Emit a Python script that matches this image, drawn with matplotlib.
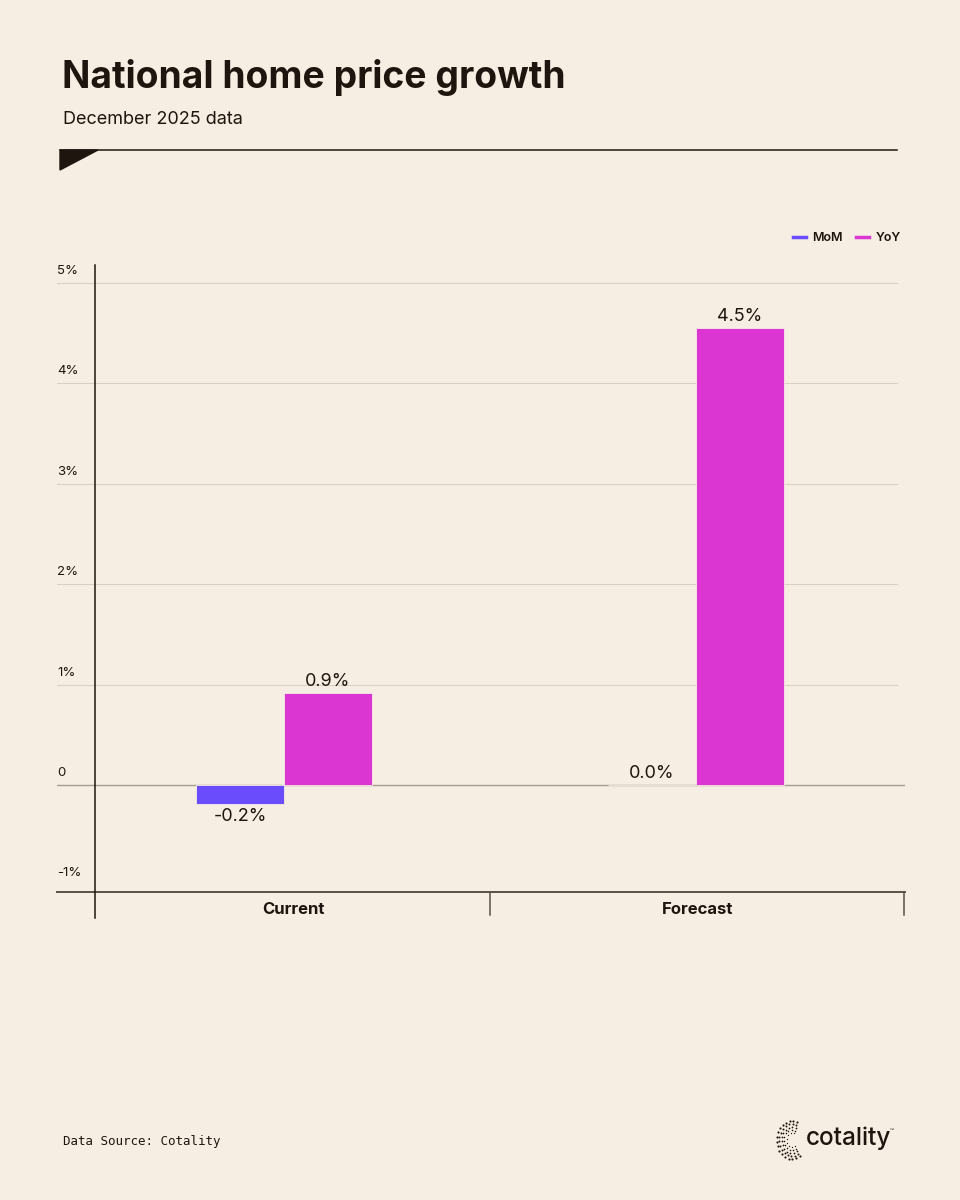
import numpy as np
import matplotlib
matplotlib.use('Agg')
import matplotlib.pyplot as plt
from matplotlib.patches import Polygon
from matplotlib.lines import Line2D

# Данные
categories = ['Current', 'Forecast']
series = ['MoM', 'YoY']
mom = [-0.19, 0.0]
yoy = [0.92, 4.55]
mom_labels = ['-0.2%', '0.0%']
yoy_labels = ['0.9%', '4.5%']
yticks = [-1, 0, 1, 2, 3, 4, 5]
ytick_labels = ['-1%', '0', '1%', '2%', '3%', '4%', '5%']

BG = '#f6eee3'
DARK = '#1e160e'
C_MOM = '#6a4cfc'
C_YOY = '#dc36d2'

plt.rcParams['font.family'] = ['Inter', 'DejaVu Sans']

W, H = 960, 1200
fig = plt.figure(figsize=(W / 100, H / 100), dpi=100, facecolor=BG)

def fx(px):
    return px / W

def fy(py):
    return 1 - py / H

# заголовок
fig.text(fx(62), fy(78), 'National home price growth', fontsize=26.8, fontweight='bold',
         color=DARK, va='center', ha='left')
fig.text(fx(63), fy(119), 'December 2025 data', fontsize=13, color=DARK, va='center', ha='left')
fig.add_artist(Line2D([fx(60), fx(897)], [fy(150), fy(150)], color=DARK, lw=1.1))
fig.add_artist(Polygon([[fx(60), fy(150)], [fx(98), fy(150)], [fx(60), fy(170)]],
                       closed=True, color=DARK, transform=fig.transFigure))

# оси
ax = fig.add_axes([fx(57), fy(892), fx(905) - fx(57), fy(265) - fy(892)])
ax.set_facecolor(BG)
px_per_unit = 100.4
ax.set_ylim(-(892 - 785) / px_per_unit, (785 - 265) / px_per_unit)
grp = 412.0
ax.set_xlim(-(284 - 57) / grp, 1 + (905 - 696) / grp)
for s in ['left', 'right', 'top']:
    ax.spines[s].set_visible(False)
ax.spines['bottom'].set_color('#5a5047')
ax.spines['bottom'].set_linewidth(1.4)
ax.set_xticks([])
ax.set_yticks([])

for t, lab in zip(yticks, ytick_labels):
    if t > 0:
        ax.axhline(t, xmin=0, xmax=0.99, color='#d9d0c3', lw=0.8, zorder=0)
    ax.text(0.0, t + 0.06, lab, transform=ax.get_yaxis_transform(), fontsize=9.5,
            color=DARK, ha='left', va='bottom')
ax.axhline(0, color='#a59c90', lw=1.0, zorder=1)

x = np.arange(len(categories))
w = 88 / grp
ax.bar(x - w / 2, mom, width=w, color=C_MOM, zorder=2, edgecolor=BG, linewidth=0.6)
ax.bar(x + w / 2, yoy, width=w, color=C_YOY, zorder=2, edgecolor=BG, linewidth=0.6)

for xi, v, lab in zip(x - w / 2, mom, mom_labels):
    if v < 0:
        ax.text(xi, v - 0.04, lab, ha='center', va='top', fontsize=13, color=DARK)
    else:
        ax.text(xi, v + 0.03, lab, ha='center', va='bottom', fontsize=13, color=DARK)
for xi, v, lab in zip(x + w / 2, yoy, yoy_labels):
    ax.text(xi, v + 0.03, lab, ha='center', va='bottom', fontsize=13, color=DARK)

# левая линия и разделители категорий
xl = -(284 - 95) / grp
ax.plot([xl, xl], [ax.get_ylim()[1], -(918 - 785) / px_per_unit], color=DARK, lw=1.1,
        clip_on=False, zorder=3)
for xs in [0.5, 1 + (904 - 696) / grp]:
    ax.plot([xs, xs], [ax.get_ylim()[0], -(915 - 785) / px_per_unit], color='#5a5047',
            lw=1.1, clip_on=False)
for xi, c in zip([(95 + 491) / 2, (491 + 905) / 2], categories):
    fig.text(fx(xi), fy(910), c, fontsize=12, fontweight='bold', color=DARK,
             ha='center', va='center')

# легенда
handles = [Line2D([], [], color=C_MOM, lw=2.5), Line2D([], [], color=C_YOY, lw=2.5)]
fig.legend(handles, series, loc='center right', bbox_to_anchor=(fx(912), fy(238)), ncol=2,
           frameon=False, prop={'size': 9, 'weight': 'semibold'}, handlelength=1.1,
           handletextpad=0.5, columnspacing=1.0, labelcolor=DARK)

# подвал
fig.text(fx(63), fy(1142), 'Data Source: Cotality', fontsize=9, family='DejaVu Sans Mono',
         color=DARK, ha='left', va='center')
fig.text(fx(806), fy(1138), 'cotality', fontsize=17.5, color=DARK, ha='left', va='center',
         fontweight='medium')
fig.text(fx(890), fy(1131), '™', fontsize=4.5, color=DARK, ha='left', va='center')

# значок логотипа: точки по дугам
lax = fig.add_axes([fx(772), fy(1160), fx(40), fy(1120) - fy(1160)])
lax.set_xlim(-1, 1)
lax.set_ylim(-1, 1)
lax.axis('off')
for r in [0.35, 0.5, 0.65, 0.8, 0.95]:
    ang = np.linspace(np.radians(70), np.radians(300), int(14 * r) + 4)
    lax.scatter(r * np.cos(ang) * 0.8, r * np.sin(ang), s=2.5 * r, color=DARK, lw=0)

fig.savefig('out.png', dpi=100, facecolor=BG)
